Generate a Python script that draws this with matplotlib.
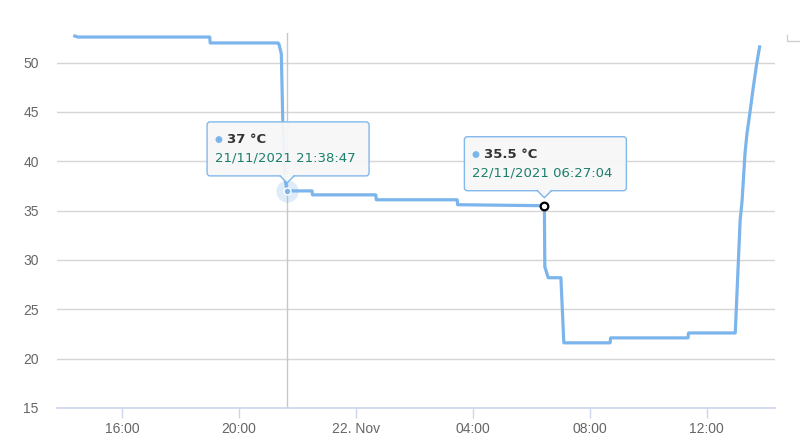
import matplotlib
matplotlib.use('Agg')
import matplotlib.pyplot as plt
import matplotlib.dates as mdates
from matplotlib.patches import FancyBboxPatch, Polygon
from matplotlib.lines import Line2D
from matplotlib.transforms import IdentityTransform
import pandas as pd

# temperature readings
times = ['2021-11-21 14:23', '2021-11-21 14:29', '2021-11-21 19:00', '2021-11-21 19:01',
         '2021-11-21 21:20', '2021-11-21 21:22', '2021-11-21 21:27', '2021-11-21 21:30',
         '2021-11-21 21:34', '2021-11-21 21:38:47', '2021-11-21 22:30', '2021-11-21 22:31',
         '2021-11-22 00:41', '2021-11-22 00:42', '2021-11-22 03:28', '2021-11-22 03:29',
         '2021-11-22 06:27:04', '2021-11-22 06:28', '2021-11-22 06:35', '2021-11-22 07:01',
         '2021-11-22 07:07', '2021-11-22 08:42', '2021-11-22 08:43', '2021-11-22 11:22',
         '2021-11-22 11:23', '2021-11-22 12:59', '2021-11-22 13:09', '2021-11-22 13:13',
         '2021-11-22 13:19', '2021-11-22 13:23', '2021-11-22 13:29', '2021-11-22 13:36',
         '2021-11-22 13:43', '2021-11-22 13:49']
temps = [52.7, 52.6, 52.6, 52.0,
         52.0, 51.9, 50.9, 44.0,
         38.4, 37.0, 37.0, 36.6,
         36.6, 36.1, 36.1, 35.6,
         35.5, 29.3, 28.2, 28.2,
         21.6, 21.6, 22.1, 22.1,
         22.6, 22.6, 34.0, 36.0,
         40.8, 42.8, 44.9, 47.5,
         49.9, 51.6]

tick_times = ['2021-11-21 16:00', '2021-11-21 20:00', '2021-11-22 00:00',
              '2021-11-22 04:00', '2021-11-22 08:00', '2021-11-22 12:00']
tick_labels = ['16:00', '20:00', '22. Nov', '04:00', '08:00', '12:00']
y_ticks = [15, 20, 25, 30, 35, 40, 45, 50]

tooltips = [('2021-11-21 21:38:47', 37.0, '37 °C', '21/11/2021 21:38:47'),
            ('2021-11-22 06:27:04', 35.5, '35.5 °C', '22/11/2021 06:27:04')]


def to_num(s):
    return mdates.date2num(pd.to_datetime(s, format='mixed'))


x = to_num(times)
line_color = '#7cb5ec'

fig = plt.figure(figsize=(8, 4.41), dpi=100)
ax = fig.add_axes([0.071, 0.075, 0.898, 0.85])
ax.plot(x, temps, color=line_color, lw=2.3, solid_joinstyle='round', zorder=3)

ax.set_xlim(to_num('2021-11-21 13:46'), to_num('2021-11-22 14:21'))
ax.set_ylim(15, 53)

ax.set_yticks(y_ticks)
ax.set_xticks(to_num(tick_times))
ax.set_xticklabels(tick_labels)
for lab in ax.get_xticklabels() + ax.get_yticklabels():
    lab.set_fontfamily('Liberation Sans')
ax.grid(axis='y', color='#d6d6d6', lw=1)
ax.set_axisbelow(True)
for s in ['top', 'right', 'left']:
    ax.spines[s].set_visible(False)
ax.spines['bottom'].set_color('#ccd6eb')
ax.spines['bottom'].set_linewidth(1.2)
ax.tick_params(axis='x', colors='#ccd6eb', length=7, width=1, labelcolor='#666666',
               labelsize=10, pad=3)
ax.tick_params(axis='y', length=0, labelcolor='#666666', labelsize=10, pad=13)

# crosshair at first hovered point
t0 = to_num(tooltips[0][0])
ax.axvline(t0, color='#c8c8c8', lw=1, zorder=2)

for i, (t, v, head, stamp) in enumerate(tooltips):
    tx = to_num(t)
    if i == 0:
        ax.plot(tx, v, 'o', ms=16, color=line_color, alpha=0.25, mec='none', zorder=4)
        ax.plot(tx, v, 'o', ms=5, color=line_color, mec='white', mew=1, zorder=5)
    else:
        ax.plot(tx, v, 'o', ms=5.5, mfc='white', mec='black', mew=1.6, zorder=5)

    px, py = ax.transData.transform((tx, v))
    left, right = px - 80, px + 82
    bottom, top = py + 15, py + 69
    box = FancyBboxPatch((left, bottom), right - left, top - bottom,
                         boxstyle='round,pad=0,rounding_size=3',
                         fc='#f7f7f7', ec=line_color, lw=1, alpha=0.95,
                         transform=IdentityTransform(), zorder=6)
    fig.patches.append(box)
    tri = Polygon([(px - 7, bottom + 1), (px + 7, bottom + 1), (px, py + 8)],
                  closed=True, fc='#f7f7f7', ec='none', transform=IdentityTransform(),
                  zorder=7)
    fig.patches.append(tri)
    fig.lines.append(Line2D([px - 7, px, px + 7], [bottom, py + 8, bottom],
                            color=line_color, lw=1, transform=IdentityTransform(),
                            zorder=8))
    fig.text(left + 7, top - 18, '●', color=line_color, fontsize=6.5,
             va='center', transform=IdentityTransform(), zorder=9)
    fig.text(left + 20, top - 18, head, color='#333333', fontsize=9.5, weight='bold',
             va='center', transform=IdentityTransform(), zorder=9)
    fig.text(left + 8, top - 36, stamp, color='#1a7f6a', fontsize=9.5,
             va='center', transform=IdentityTransform(), zorder=9)

# corner of the export button peeking in at top right
fig.lines.append(Line2D([787, 787, 800], [441 - 35, 441 - 41, 441 - 41], color='#d0d0d0',
                        lw=1, transform=IdentityTransform()))

fig.savefig('out.png', dpi=100)
